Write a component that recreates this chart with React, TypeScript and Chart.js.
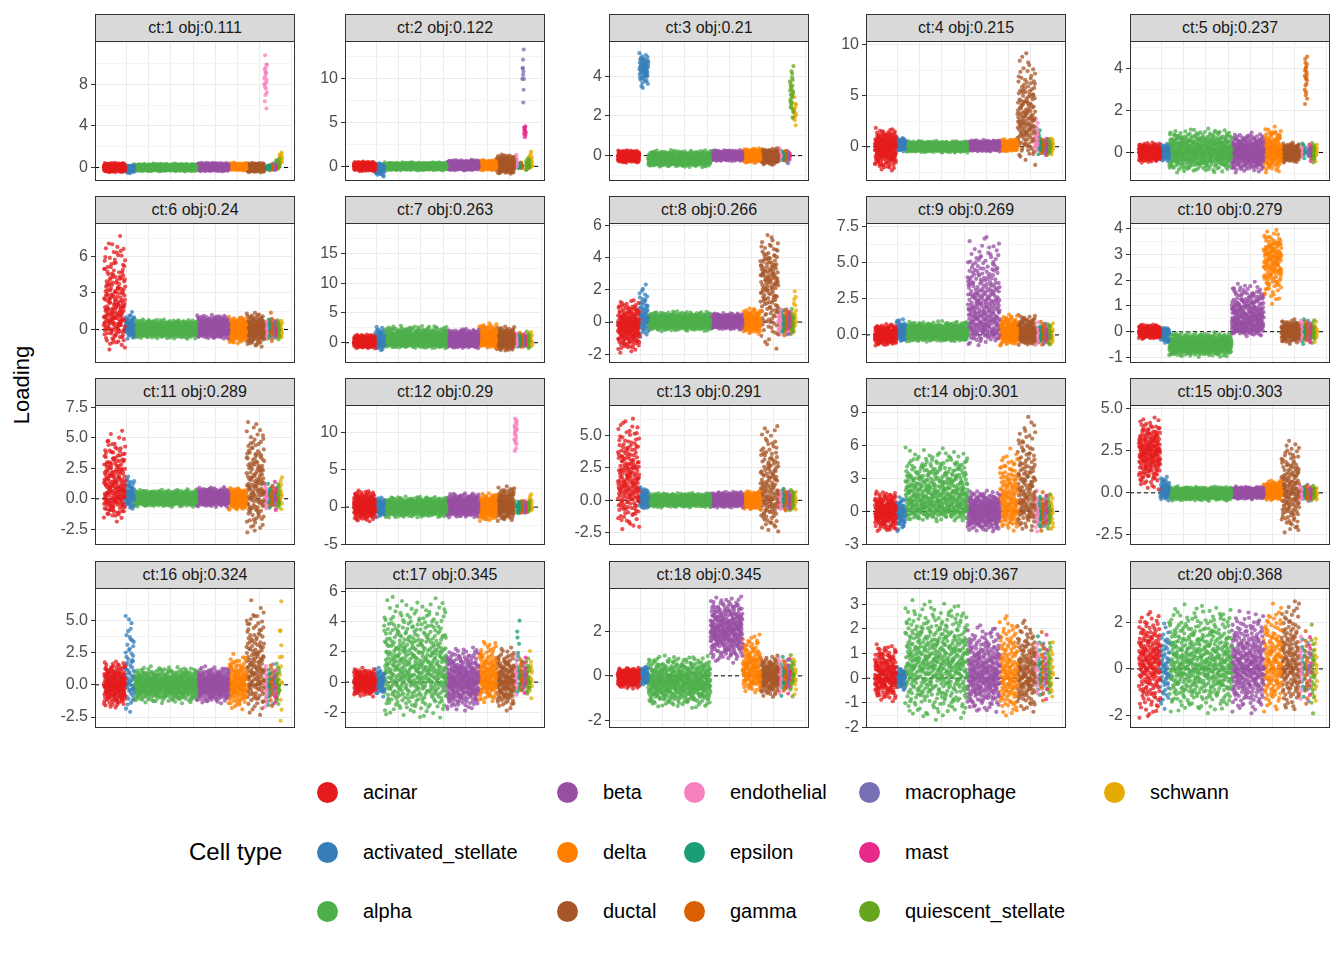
import React, { useEffect, useRef } from "react";
import { Chart, registerables } from "chart.js";
Chart.register(...registerables);

const cellTypes = ["acinar","activated_stellate","alpha","beta","delta","ductal","endothelial","epsilon","gamma","macrophage","mast","quiescent_stellate","schwann"];
const typeColors = ["#E41A1C","#377EB8","#4DAF4A","#984EA3","#FF7F00","#A65628","#F781BF","#1B9E77","#D95F02","#7570B3","#E7298A","#66A61E","#E6AB02"];
const typeCounts = [200,60,500,300,150,150,20,15,20,10,10,25,15];
const typeXStart = [0.0,0.12,0.17,0.52,0.70,0.80,0.90,0.915,0.93,0.945,0.955,0.965,0.985];
const typeXEnd =   [0.12,0.17,0.52,0.70,0.80,0.90,0.915,0.93,0.945,0.955,0.965,0.985,1.0];

const panelTitles = ["ct:1 obj:0.111","ct:2 obj:0.122","ct:3 obj:0.21","ct:4 obj:0.215","ct:5 obj:0.237","ct:6 obj:0.24","ct:7 obj:0.263","ct:8 obj:0.266","ct:9 obj:0.269","ct:10 obj:0.279","ct:11 obj:0.289","ct:12 obj:0.29","ct:13 obj:0.291","ct:14 obj:0.301","ct:15 obj:0.303","ct:16 obj:0.324","ct:17 obj:0.345","ct:18 obj:0.345","ct:19 obj:0.367","ct:20 obj:0.368"];
const panelYRange = [[-1.24,12.1],[-1.6,14.2],[-1.25,5.75],[-3.3,10.3],[-1.33,5.3],[-2.7,8.7],[-3.3,20],[-2.5,6.1],[-1.9,7.7],[-1.19,4.19],[-3.75,7.66],[-5.0,13.6],[-3.4,7.3],[-3.0,9.6],[-3.06,5.18],[-3.3,7.46],[-3.0,6.2],[-2.31,3.91],[-2.0,3.64],[-2.51,3.45]];
const panelTicks = [[0,4,8],[0,5,10],[0,2,4],[0,5,10],[0,2,4],[0,3,6],[0,5,10,15],[-2,0,2,4,6],[0,2.5,5,7.5],[-1,0,1,2,3,4],[-2.5,0,2.5,5,7.5],[-5,0,5,10],[-2.5,0,2.5,5],[-3,0,3,6,9],[-2.5,0,2.5,5],[-2.5,0,2.5,5],[-2,0,2,4,6],[-2,0,2],[-2,-1,0,1,2,3],[-2,0,2]];

// per panel, per cell type: [low, high, mode]
const panelRanges: number[][][] = [
  [[-.5,.5,0],[-.6,.3,0],[-.4,.4,0],[-.4,.5,0],[-.3,.5,0],[-.5,.5,0],[5.5,11,9],[-.3,.3,0],[-.3,.3,0],[-.3,.5,0],[-.3,.3,0],[-.3,1,0.2],[0,1.8,0.8]],
  [[-.6,.6,0],[-1.2,.4,0],[-.5,.5,0],[-.5,.8,0],[-.5,.8,0],[-1,1.5,0],[-.3,1.5,0.3],[-.3,.5,0],[-.3,.5,0],[7,13.5,11],[3,5,4],[-.5,1,0],[-.3,2,0.5]],
  [[-.4,.3,0],[3.3,5.3,4.5],[-.6,.3,-.2],[-.3,.3,0],[-.4,.4,0],[-.5,.4,0],[-.3,.5,0],[-.3,.3,0],[-.3,.3,0],[-.5,.3,0],[-.3,.3,0],[1.5,4.8,3],[1.5,3,2]],
  [[-2.5,2,0],[-.5,1,0],[-.6,.6,0],[-.5,.7,0],[-.5,.8,0],[-2,9.5,2],[-.5,3,0],[-1,2,0],[-1,1,0],[-1,1,0],[-1,1,0],[-1,1,0],[-1,1,0]],
  [[-.5,.5,0],[-.5,.5,0],[-1,1.2,0],[-1,1,0],[-1,1.3,0],[-.5,.5,0],[-.3,.3,0],[-.3,.5,0],[2,5,4],[-.3,.3,0],[-.5,.5,0],[-.5,.5,0],[-.5,.5,0]],
  [[-1.8,8,0.5],[-.8,1.5,0],[-.8,.9,0],[-.8,1.3,0],[-1.3,1.2,0],[-1.5,1.5,0],[-1,1,0],[-1,1,0],[-1,1.5,0],[-1,1,0],[-1,1,0],[-1,1,0],[-1,1,0]],
  [[-1,1.5,0],[-1.5,3,0],[-1,3,0],[-1,2.5,0],[-1,3.5,0.3],[-1.5,3,0],[-1,2,0],[-1,2,0],[-1,2,0],[-1,2,0],[-1,2,0],[-1,2,0],[-1,2.5,0]],
  [[-2,1.5,-0.3],[-1,2.5,0],[-.6,.7,0],[-.5,.6,0],[-.8,.9,0],[-2,5.6,3],[-1,1,0],[-1,1,0],[-1,1,0],[-1,1,0],[-1,1,0],[-1,1,0],[-1,3,0]],
  [[-.8,.8,0],[-.5,1.2,0],[-.5,1,0],[-.8,7,0.3],[-.8,1.5,0],[-.8,1.5,0],[-.8,1,0],[-.8,1,0],[-.8,1,0],[-.8,1,0],[-.8,1,0],[-.8,1,0],[-.8,1,0]],
  [[-.3,.3,0],[-.5,.2,0],[-1,0,-0.5],[-.2,2,0.1],[1,4,3],[-.5,.5,0],[-.5,.5,0],[-.5,.5,0],[-.5,.5,0],[-.5,.5,0],[-.5,.5,0],[-.5,.5,0],[-.5,.5,0]],
  [[-2,5.8,0],[-1,2,0],[-.7,.8,0],[-.7,1,0],[-1,1,0],[-3.2,7,0.5],[-1,1.5,0],[-1,1.5,0],[-1,1.5,0],[-1,1.5,0],[-1,1.5,0],[-1,1.5,0],[-1,2,0]],
  [[-2,2.5,0],[-1.5,1.5,0],[-1.5,1.5,0],[-1.5,2,0],[-2,2,0],[-2,3,0],[6,12.5,11],[-1,1,0],[-1,1,0],[-1,1,0],[-1,1,0],[-1,1,0],[-1,2,0]],
  [[-2.5,6.7,1],[-.8,1.2,0],[-.6,.6,0],[-.6,.7,0],[-.8,.8,0],[-2.8,6.3,0],[-1,1,0],[-1,1,0],[-1,1,0],[-1,1,0],[-1,1,0],[-1,1,0],[-1,1,0]],
  [[-2,2,0],[-2,1.5,0],[-1,6,0],[-2,2,0],[-2,6,0],[-2,9,0],[-2,2,0],[-2,2,0],[-2,2,0],[-2,2,0],[-2,2,0],[-2,2,0],[-2.5,2,0]],
  [[0,4.6,2.5],[-.5,1,0],[-.5,.4,0],[-.4,.4,0],[-.5,.8,0],[-2.8,3.4,0],[-.5,.5,0],[-.5,.5,0],[-.5,.5,0],[-.5,.5,0],[-.5,.5,0],[-.5,.5,0],[-.5,.5,0]],
  [[-2,2,0],[-2.5,6,0],[-1.5,1.5,0],[-1.5,1.5,0],[-2,2.5,0],[-2.5,6.8,0.5],[-2,2,0],[-2,2,0],[-2,2,0],[-2,2,0],[-2,2,0],[-2,2,0],[-3,7,0]],
  [[-1,1,0],[-1,1,0],[-2.5,6,0.3],[-2,2.5,0],[-1.5,3,0],[-2,2.5,0],[-1,2,0],[-1,5,0],[-1,2,0],[-1,2,0],[-1,2,0],[-1,2,0],[-1.5,2.5,0]],
  [[-.6,.4,0],[-.5,.5,0],[-1.5,1,-0.3],[.5,3.7,2],[-.8,2,0],[-1,1,0],[-1,1,0],[-1,1,0],[-1,1,0],[-1,1,0],[-1,1,0],[-1,1,0],[-1,1,0]],
  [[-1,1.5,0],[-.5,.5,0],[-1.8,3.3,0.5],[-1.5,2.3,0],[-1.8,2.7,0],[-1.5,2.5,0],[-1,2,0],[-1,2,0],[-1,2,0],[-1,2,0],[-1,2,0],[-1,2,0],[-1.5,2,0]],
  [[-2.3,2.6,0.5],[-2,2.2,0],[-2,2.9,0],[-2,2.6,0],[-2,3,0],[-2,3.2,0],[-2,2,0],[-2,2,0],[-2,2,0],[-2,2,0],[-2,2,0],[-2,2,0],[-2,2,0]],
];

const colLefts = [95,345,609,866,1130];
const rowTops = [41,223,405,588];
const plotW = 200, plotH = 140, PAD = 12;

function halton(i: number, base: number) {
  let f = 1, r = 0;
  while (i > 0) { f /= base; r += f * (i % base); i = Math.floor(i / base); }
  return r;
}
function frac(v: number) { return v - Math.floor(v); }
function makePoints(p: number, t: number) {
  const [a, b, c0] = panelRanges[p][t];
  const c = Math.min(Math.max(c0, a), b);
  const n = typeCounts[t];
  const out: { x: number; y: number }[] = [];
  const fc = (c - a) / (b - a || 1);
  const off = 17 + p * 131 + t * 37;
  for (let i = 0; i < n; i++) {
    const u = Math.min(0.999, Math.max(0.001, halton(i + off, 3)));
    const w = frac(halton(i + off, 2) + p * 0.13);
    const y = u < fc ? a + Math.sqrt(u * (b - a) * (c - a)) : b - Math.sqrt((1 - u) * (b - a) * (b - c));
    out.push({ x: typeXStart[t] + (typeXEnd[t] - typeXStart[t]) * w, y });
  }
  return out;
}

const FONT = "'Liberation Sans', Arial, sans-serif";

function Panel({ idx }: { idx: number }) {
  const ref = useRef<HTMLCanvasElement>(null);
  useEffect(() => {
    const datasets: any[] = cellTypes.map((name, t) => ({
      type: "scatter", label: name, data: makePoints(idx, t),
      backgroundColor: typeColors[t] + "C0", borderWidth: 0, pointRadius: 2.1,
    }));
    datasets.push({ type: "line", data: [{ x: -0.05, y: 0 }, { x: 1.05, y: 0 }], borderColor: "#000", borderWidth: 1, borderDash: [4, 3], pointRadius: 0 });
    const ticks = panelTicks[idx];
    const step = ticks[1] - ticks[0];
    const [ymin, ymax] = panelYRange[idx];
    const isMajor = (v: number) => ticks.some((t) => Math.abs(t - v) < 1e-9);
    const chart = new Chart(ref.current!, {
      type: "scatter",
      data: { datasets },
      options: {
        animation: false, responsive: false, devicePixelRatio: 1,
        layout: { padding: { top: PAD, bottom: PAD, left: 0, right: 0 } },
        plugins: { legend: { display: false }, tooltip: { enabled: false } },
        scales: {
          x: {
            type: "linear", min: -0.05, max: 1.05,
            ticks: { display: false, stepSize: 0.125 },
            grid: { color: "#ebebeb", lineWidth: 1, drawTicks: false },
            border: { display: false },
            afterFit: (s: any) => { s.height = 0; },
          },
          y: {
            type: "linear", min: ymin, max: ymax,
            afterBuildTicks: (s: any) => {
              const arr: any[] = [];
              for (let k = -4; k <= 2 * ticks.length + 4; k++) {
                const v = Math.round((ticks[0] + k * step / 2) * 1e6) / 1e6;
                if (v >= ymin - 1e-9 && v <= ymax + 1e-9) arr.push({ value: v });
              }
              s.ticks = arr;
            },
            ticks: {
              autoSkip: false, font: { family: FONT, size: 16 }, color: "#4d4d4d", padding: 3,
              callback: (v: any) => isMajor(Number(v)) ? (Number.isInteger(step) ? String(v) : Number(v).toFixed(1)) : "",
            },
            grid: {
              color: (ctx: any) => isMajor(ctx.tick?.value) ? "#ebebeb" : "#f4f4f4",
              tickColor: (ctx: any) => isMajor(ctx.tick?.value) ? "#333" : "rgba(0,0,0,0)",
              tickLength: 4, lineWidth: 1,
            },
            border: { display: false },
            afterFit: (s: any) => { s.width = 60; },
          },
        },
      } as any,
    });
    return () => chart.destroy();
  }, [idx]);
  const col = idx % 5, row = Math.floor(idx / 5);
  const left = colLefts[col], top = rowTops[row];
  return (
    <>
      <canvas ref={ref} width={plotW + 60} height={plotH + 2 * PAD} style={{ position: "absolute", left: left - 60, top: top - PAD, width: plotW + 60, height: plotH + 2 * PAD }} />
      <div style={{ position: "absolute", left, top, width: plotW, height: plotH, border: "1px solid #333", boxSizing: "border-box", pointerEvents: "none" }} />
      <div style={{ position: "absolute", left, top: top - 27, width: plotW, height: 27, background: "#d9d9d9", border: "1px solid #333", borderBottom: "none", boxSizing: "border-box", font: `16px ${FONT}`, color: "#1a1a1a", textAlign: "center", lineHeight: "26px" }}>{panelTitles[idx]}</div>
    </>
  );
}

const legendCols = [[0,1,2],[3,4,5],[6,7,8],[9,10,11],[12]];
const legendX = [328,568,695,870,1115];
const legendY = [792,852,911];

export default function App() {
  return (
    <div style={{ position: "relative", width: 1344, height: 960, margin: -8, background: "#fff", fontFamily: FONT }}>
      {panelTitles.map((_, i) => <Panel key={i} idx={i} />)}
      <div style={{ position: "absolute", left: 22, top: 385, transform: "translate(-50%,-50%) rotate(-90deg)", fontSize: 22, whiteSpace: "nowrap" }}>Loading</div>
      <div style={{ position: "absolute", left: 189, top: 852, transform: "translateY(-50%)", fontSize: 24 }}>Cell type</div>
      {legendCols.map((col, ci) => col.map((t, ri) => (
        <div key={t} style={{ position: "absolute", left: legendX[ci] - 11, top: legendY[ri] - 11, display: "flex", alignItems: "center", height: 22 }}>
          <span style={{ width: 21, height: 21, borderRadius: "50%", background: typeColors[t], display: "inline-block" }} />
          <span style={{ marginLeft: 25, fontSize: 20, whiteSpace: "nowrap" }}>{cellTypes[t]}</span>
        </div>
      )))}
    </div>
  );
}
